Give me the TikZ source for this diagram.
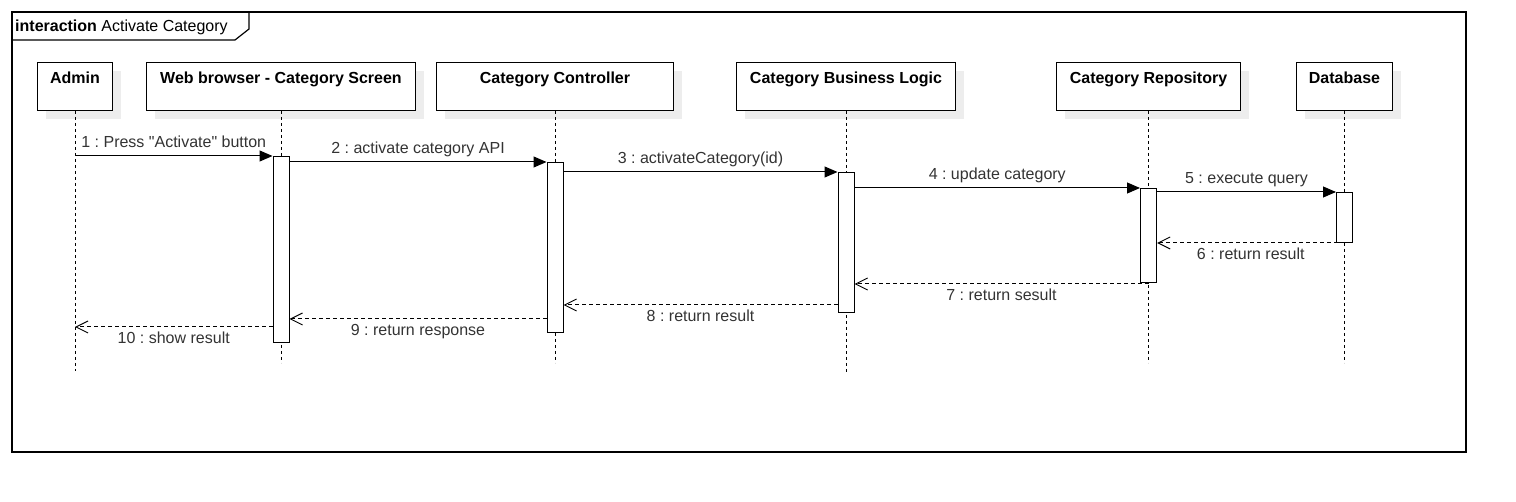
\documentclass[tikz,border=0pt]{standalone}
\usepackage{fontspec}
\setmainfont{Liberation Sans}[Ligatures=TeXOff]
\usetikzlibrary{positioning,arrows.meta,shadows}
\frenchspacing

\definecolor{msgtext}{HTML}{333333}
\definecolor{shade}{HTML}{EDEDED}

\tikzset{
  head/.style={draw, fill=white, line width=1pt, font=\fontsize{16}{19}\selectfont\bfseries, minimum height=48pt,
    text height=16pt, text depth=22pt, inner sep=5pt, anchor=north west,
    drop shadow={shadow xshift=8pt, shadow yshift=-9pt, fill=shade, opacity=1}},
  bar/.style={draw, fill=white, line width=1pt, minimum width=16pt, inner sep=0pt, anchor=north},
  life/.style={line width=1pt, dash pattern=on 3pt off 3pt},
  call/.style={line width=1pt, -{Triangle[length=13pt,width=11pt]}},
  reply/.style={line width=1pt, dash pattern=on 4pt off 3pt, -{Straight Barb[length=12pt,width=12pt]}},
  above msg/.style={midway, anchor=base, yshift=8pt, inner sep=0pt, text=msgtext},
  below msg/.style={midway, anchor=base, yshift=-17pt, inner sep=0pt, text=msgtext},
}

\begin{document}
\begin{tikzpicture}[x=1pt, y=-1pt, font=\fontsize{16}{19}\selectfont]
    \useasboundingbox (0,0) rectangle (1516,502);

    % draw frame
    \draw[line width=1.2pt] (12,12) rectangle (1466,452);
    \draw[line width=1.2pt] (12,40) -- (235,40) -- (249,29) -- (249,12);
    \node (title) [anchor=base west, inner sep=0pt] at (15,31.5) {\textbf{interaction} Activate Category};

    % draw lifeline heads
    \node (admin) [head, minimum width=75pt] at (37,62) {Admin};
    \node (browser) [head, minimum width=269pt] at (146,62) {Web browser - Category Screen};
    \node (controller) [head, minimum width=237pt] at (436,62) {Category Controller};
    \node (logic) [head, minimum width=219pt] at (736,62) {Category Business Logic};
    \node (repository) [head, minimum width=184pt] at (1056,62) {Category Repository};
    \node (database) [head, minimum width=96pt] at (1296,62) {Database};

    % draw lifelines
    \draw[life] (admin.south) -- (admin.south |- 0,371) coordinate (admin end);
    \draw[life] (browser.south) -- (browser.south |- 0,363) coordinate (browser end);
    \draw[life] (controller.south) -- (controller.south |- 0,363) coordinate (controller end);
    \draw[life] (logic.south) -- (logic.south |- 0,372) coordinate (logic end);
    \draw[life] (repository.south) -- (repository.south |- 0,363) coordinate (repository end);
    \draw[life] (database.south) -- (database.south |- 0,363) coordinate (database end);

    % draw activation bars
    \node (browserbar) [bar, minimum height=186pt] at (browser.south |- 0,156) {};
    \node (controllerbar) [bar, minimum height=170pt] at (controller.south |- 0,162) {};
    \node (logicbar) [bar, minimum height=140pt] at (logic.south |- 0,172) {};
    \node (repositorybar) [bar, minimum height=94pt] at (repository.south |- 0,188) {};
    \node (databasebar) [bar, minimum height=50pt] at (database.south |- 0,192) {};

    % draw calls
    \draw[call] (admin.south |- browserbar.north) -- (browserbar.north west) node[above msg] {1 : Press "Activate" button};
    \draw[call] (browserbar.east |- controllerbar.north) -- (controllerbar.north west) node[above msg] {2 : activate category API};
    \draw[call] (controllerbar.east |- logicbar.north) -- (logicbar.north west) node[above msg] {3 : activateCategory(id)};
    \draw[call] (logicbar.east |- repositorybar.north) -- (repositorybar.north west) node[above msg] {4 : update category};
    \draw[call] (repositorybar.east |- databasebar.north) -- (databasebar.north west) node[above msg] {5 : execute query};

    % draw replies
    \draw[reply] (database.south |- databasebar.south) -- (repositorybar.east |- databasebar.south) node[below msg] {6 : return result};
    \draw[reply] (repository.south |- 0,284) -- (logicbar.east |- 0,284) node[below msg] {7 : return sesult};
    \draw[reply] (logicbar.west |- 0,305) -- (controllerbar.east |- 0,305) node[below msg] {8 : return result};
    \draw[reply] (controllerbar.west |- 0,319) -- (browserbar.east |- 0,319) node[below msg] {9 : return response};
    \draw[reply] (browserbar.west |- 0,327) -- (admin.south |- 0,327) node[below msg] {10 : show result};
\end{tikzpicture}
\end{document}
